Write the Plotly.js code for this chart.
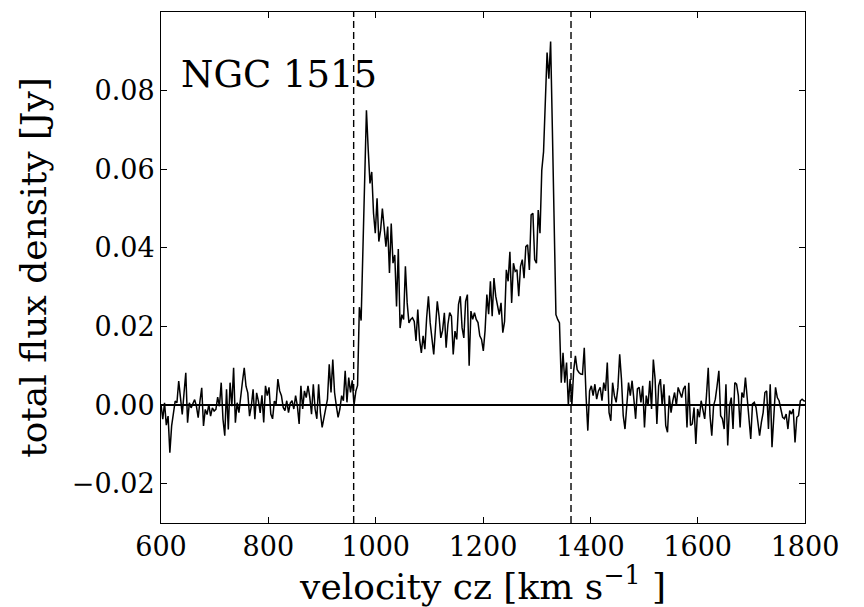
<!DOCTYPE html>
<html>
<head>
<meta charset="utf-8">
<script src="https://cdn.plot.ly/plotly-3.0.1.min.js"></script>
<style>
html, body { margin: 0; padding: 0; background: #ffffff; }
#chart { width: 864px; height: 607px; }
</style>
</head>
<body>
<div id="chart"></div>
<script>
// Channel grid of the spectrum (km/s)
const velocityStart = 600;
const channelWidth = 3.3;

// Total flux density per channel (Jy)
const fluxBaselineLow = [
  0.0002, -0.0036, 0.0006, -0.0051, -0.0028, -0.0121, -0.0053, -0.002, 0.001, 0.0006,
  0.0061, 0.0019, -0.0024, 0.003, 0.0082, -0.0045, 0.0006, -0.0007, 0.0002, 0.0014,
  -0.0003, -0.0032, 0.001, 0.0044, -0.0053, -0.0011, -0.0024, 0.0002, -0.0028, -0.0007,
  -0.0015, -0.0011, 0.002, -0.0003, 0.0057, -0.0036, -0.0078, 0.004, -0.0062, 0.0057,
  -0.0003, 0.0095, -0.0045, 0.0006, -0.0019, 0.003, 0.006, 0.0095, 0.0048, 0.0031,
  -0.0028, -0.0003, 0.004, -0.0036, 0.0031, 0.001, -0.002, 0.0025,
  -0.0044, 0.0049, 0.0024, 0.0045, -0.0023, -0.0035, 0.001, 0.0003, 0.0066, 0.0036,
  0.0024, -0.0006, -0.0014, 0.0011, -0.0019, 0.0005, 0.0011, -0.001, 0.0024, -0.0002,
  -0.0048, 0.0049, -0.001, 0.0036, 0.0019, 0.0049, 0.002, -0.0023, 0.0053, -0.001,
  -0.0035, 0.0053, -0.0019, -0.0057, -0.003, -0.001, 0.0015, 0.0104, 0.0032, 0.0116,
  0.0032, -0.0002, -0.0031, -0.001, 0.0024, 0.0011, 0.0087, 0.0007, 0.007, 0.0032,
  0.0063, 0.0, 0.0035, 0.005
];
const fluxProfile = [
  0.0249, 0.0215, 0.0386, 0.058, 0.075,
  0.065, 0.0564, 0.0593, 0.0488, 0.0437, 0.0526, 0.0416, 0.0445, 0.050, 0.044,
  0.0403, 0.0454, 0.0336, 0.0462, 0.0361, 0.0382, 0.0251, 0.0397, 0.0196, 0.023,
  0.0218, 0.0353,
  0.026, 0.0209, 0.0218, 0.0222, 0.0213, 0.0163, 0.0243, 0.0167, 0.0133, 0.0176,
  0.0142, 0.0222, 0.0277, 0.0209, 0.0163, 0.0129, 0.0197, 0.0264, 0.0226, 0.0171,
  0.019, 0.0235, 0.0146, 0.0205, 0.0235, 0.0226, 0.0129, 0.0188, 0.0167, 0.0256,
  0.0277, 0.0197, 0.0171, 0.0264, 0.0281, 0.010,
  0.0239, 0.0218, 0.0235, 0.0218, 0.021, 0.0176, 0.0167, 0.0138, 0.019, 0.0281,
  0.0231, 0.0315, 0.0226, 0.0323, 0.0277, 0.0251, 0.023, 0.026, 0.0184,
  0.0213, 0.0344, 0.0315, 0.039, 0.026, 0.0361, 0.034, 0.0344, 0.0277, 0.0353,
  0.037, 0.0323, 0.0403, 0.0408, 0.0344, 0.0484, 0.0488, 0.037, 0.0361, 0.0496,
  0.0437, 0.0597, 0.0644, 0.0783, 0.0897, 0.083, 0.0925,
  0.070, 0.046, 0.023, 0.0218, 0.0209, 0.0057, 0.0133, 0.0057, 0.0108, 0.0,
  0.0066, 0.0, 0.0087, 0.0125, 0.009, 0.0083, 0.0079
];
const fluxBaselineHigh = [
  0.0078, 0.0146, 0.0024, -0.0065, 0.0036, 0.0049, 0.0024, 0.0053, 0.0015, 0.0036,
  0.0045, 0.0011, 0.0057, 0.0036, 0.0108, -0.0019, -0.004, 0.0057, 0.0024, 0.0007,
  0.0045, 0.0129, 0.0066, -0.0027, -0.0061, -0.0002, 0.0057, 0.0024, 0.0062, 0.0015,
  -0.0035, 0.0041, 0.0045, 0.0007, 0.0049, -0.0057, 0.0024, -0.0002, 0.0062, -0.001,
  0.0116, 0.0066, -0.0048, 0.0049, 0.0066, -0.0002, 0.0053, -0.0052, -0.0069, 0.0024,
  -0.0019, 0.0011, 0.0032, -0.0002, 0.0045,
  0.0032, 0.0019, 0.0041, 0.0049, -0.0057, 0.0057, -0.0052, -0.0048, -0.0006, -0.0099,
  -0.001, -0.0031, 0.0011, -0.001, -0.0035, 0.0024, 0.0095, -0.0027, -0.0078, -0.0002,
  0.0015, 0.0049, 0.0087, -0.0027, -0.0035, -0.0061, 0.0053, -0.0103, -0.0002,
  0.0019, -0.0061, 0.0057, 0.0053, 0.0024, -0.0057, 0.0032, 0.0019, 0.007, 0.0024,
  -0.0023, -0.0086, 0.0003, 0.0007, -0.0006, -0.004, -0.0078, -0.0044, -0.0019,
  0.0032, 0.0036, -0.0061, 0.0053, -0.0107, -0.0035, 0.0045, 0.0019, 0.0011, -0.001,
  -0.0031, -0.0035, -0.0023, -0.0061, -0.0014, -0.0023, -0.001, -0.0095, -0.0031,
  -0.0027, 0.0011, 0.0015, 0.0011, 0.001
];

// Integration limits (dashed lines), km/s
const velocityLimits = [959, 1364];

// Axis ticks
const xTicks = [600, 800, 1000, 1200, 1400, 1600, 1800];
const yTicks = [-0.02, 0.00, 0.02, 0.04, 0.06, 0.08];

const galaxyName = 'NGC 1515';

const flux = fluxBaselineLow.concat(fluxProfile, fluxBaselineHigh);

const serif = '"DejaVu Serif", "Liberation Serif", serif';

const trace = {
  type: 'scatter',
  mode: 'lines',
  x0: velocityStart,
  dx: channelWidth,
  y: flux,
  line: { color: '#000000', width: 1.5 },
  hoverinfo: 'skip',
  showlegend: false
};

const shapes = velocityLimits.map(v => ({
  type: 'line', xref: 'x', yref: 'paper',
  x0: v, x1: v, y0: 0, y1: 1,
  line: { color: '#000000', width: 1.4, dash: '7px,4px' }
}));

const layout = {
  width: 864,
  height: 607,
  margin: { l: 161, r: 59, t: 12, b: 84 },
  paper_bgcolor: '#ffffff',
  plot_bgcolor: '#ffffff',
  font: { family: serif, color: '#000000', size: 27 },
  xaxis: {
    range: [600, 1800],
    tickvals: xTicks,
    ticktext: xTicks.map(String),
    ticks: 'inside',
    ticklen: 6,
    tickwidth: 1,
    tickcolor: '#000000',
    showline: true,
    linecolor: '#000000',
    linewidth: 1,
    mirror: 'ticks',
    showgrid: false,
    zeroline: false,
    tickfont: { family: serif, size: 27, color: '#000000' },
    title: {
      text: 'velocity cz [km s<sup>−1</sup> ]',
      font: { family: serif, size: 36, color: '#000000' },
      standoff: 8
    }
  },
  yaxis: {
    range: [-0.03, 0.10],
    tickvals: yTicks,
    ticktext: yTicks.map(v => (v < 0 ? '−' : '') + Math.abs(v).toFixed(2)),
    ticks: 'inside',
    ticklen: 6,
    tickwidth: 1,
    tickcolor: '#000000',
    showline: true,
    linecolor: '#000000',
    linewidth: 1,
    mirror: 'ticks',
    showgrid: false,
    zeroline: true,
    zerolinecolor: '#000000',
    zerolinewidth: 1.2,
    tickfont: { family: serif, size: 27, color: '#000000' },
    title: {
      text: 'total flux density [Jy]',
      font: { family: serif, size: 36, color: '#000000' },
      standoff: 14
    }
  },
  shapes: shapes,
  annotations: [{
    xref: 'paper', yref: 'paper',
    x: 0.028, y: 0.877,
    xanchor: 'left', yanchor: 'middle',
    text: galaxyName,
    showarrow: false,
    font: { family: serif, size: 37, color: '#000000' }
  }]
};

Plotly.newPlot('chart', [trace], layout, { staticPlot: true, displayModeBar: false });
</script>
</body>
</html>
